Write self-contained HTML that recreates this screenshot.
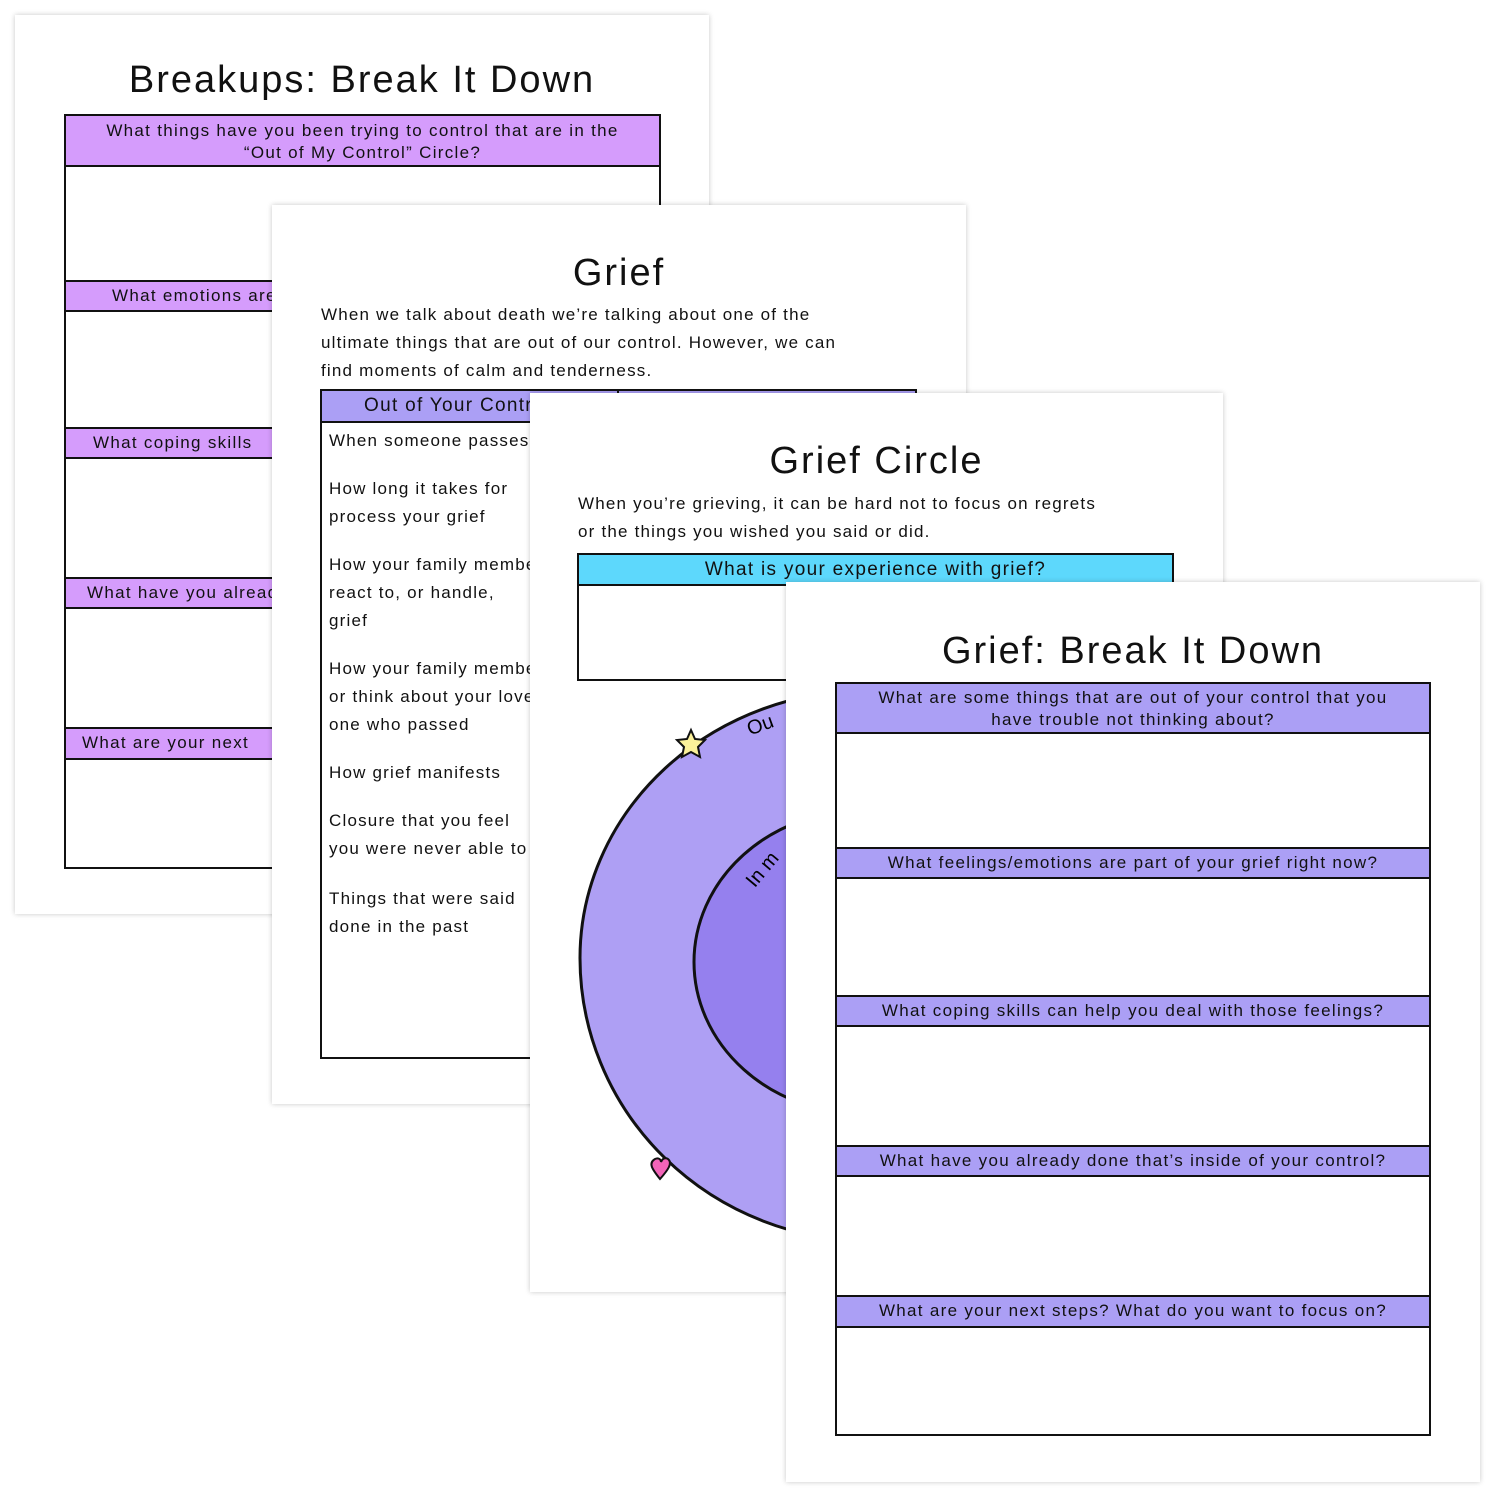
<!DOCTYPE html>
<html><head><meta charset="utf-8"><style>
body{margin:0;width:1500px;height:1500px;background:#fff;position:relative;overflow:hidden;font-family:"Liberation Sans",sans-serif;color:#111}
.pg{position:absolute;background:#fff;box-shadow:0 0 5px rgba(0,0,0,.22);z-index:0}
.t{position:absolute;box-sizing:border-box;border:2px solid #111;background:transparent;z-index:2}
.h{position:absolute;box-sizing:border-box;border-top:2px solid #111;border-bottom:2px solid #111;text-align:center;font-size:17px;letter-spacing:1.3px;line-height:22px}
.ttl{position:absolute;font-size:38px;letter-spacing:2px;text-align:center}
.p{position:absolute;font-size:17px;letter-spacing:1.2px;line-height:28px}
</style></head><body>

<!-- Page 1 -->
<div class="pg" style="left:15px;top:15px;width:694px;height:899px">
<div class="ttl" style="left:0;width:694px;top:44px">Breakups: Break It Down</div>
<div class="h" style="left:49px;top:99px;width:597px;height:53px;background:#d59cfc;padding-top:4px">What things have you been trying to control that are in the<br>“Out of My Control” Circle?</div>
<div class="h" style="left:49px;top:265px;width:597px;height:32px;background:#d59cfc;text-align:left;padding-left:48px;line-height:27px">What emotions are</div>
<div class="h" style="left:49px;top:412px;width:597px;height:32px;background:#d59cfc;text-align:left;padding-left:29px;line-height:27px">What coping skills</div>
<div class="h" style="left:49px;top:562px;width:597px;height:32px;background:#d59cfc;text-align:left;padding-left:23px;line-height:27px">What have you already</div>
<div class="h" style="left:49px;top:712px;width:597px;height:33px;background:#d59cfc;text-align:left;padding-left:18px;line-height:27px">What are your next</div>
<div class="t" style="left:49px;top:99px;width:597px;height:755px"></div>
</div>

<!-- Page 2 -->
<div class="pg" style="left:272px;top:205px;width:694px;height:899px">
<div class="ttl" style="left:0;width:694px;top:47px">Grief</div>
<div class="p" style="left:49px;top:96px">When we talk about death we’re talking about one of the<br>ultimate things that are out of our control. However, we can<br>find moments of calm and tenderness.</div>
<div class="h" style="left:48px;top:184px;width:597px;height:34px;background:#ab9ff5;text-align:left;padding-left:44px;line-height:30px;font-size:19px">Out of Your Control</div>
<div style="position:absolute;left:345px;top:184px;width:2px;height:34px;background:#111"></div>
<div class="t" style="left:48px;top:184px;width:597px;height:670px"></div>
<div class="p" style="left:57px;top:222px">When someone passes</div>
<div class="p" style="left:57px;top:270px">How long it takes for<br>process your grief</div>
<div class="p" style="left:57px;top:346px">How your family members<br>react to, or handle,<br>grief</div>
<div class="p" style="left:57px;top:450px">How your family members<br>or think about your loved<br>one who passed</div>
<div class="p" style="left:57px;top:554px">How grief manifests</div>
<div class="p" style="left:57px;top:602px">Closure that you feel<br>you were never able to</div>
<div class="p" style="left:57px;top:680px">Things that were said<br>done in the past</div>
</div>

<!-- Page 3 -->
<div class="pg" style="left:530px;top:393px;width:693px;height:899px;overflow:hidden">
<div class="ttl" style="left:0;width:693px;top:47px">Grief Circle</div>
<div class="p" style="left:48px;top:97px">When you’re grieving, it can be hard not to focus on regrets<br>or the things you wished you said or did.</div>
<div class="h" style="left:47px;top:160px;width:597px;height:33px;background:#5dd8fc;line-height:30px;font-size:19px">What is your experience with grief?</div>
<div class="t" style="left:47px;top:160px;width:597px;height:128px"></div>
<svg style="position:absolute;left:0;top:0" width="693" height="899">
<path d="M50,565 A290,268 0 0 1 630,565 A290,283 0 0 1 50,565 Z" fill="#ae9ff4" stroke="#111" stroke-width="3"/>
<ellipse cx="334" cy="569" rx="170" ry="152" fill="#9580ee" stroke="#111" stroke-width="3"/>
<text x="218" y="338" font-size="20" font-family="Liberation Sans" transform="rotate(-20 232 335)">Ou</text>
<text x="212" y="492" font-size="20" font-family="Liberation Sans" transform="rotate(-50 222 480)">In m</text>
<polygon points="161,337 165,346 175,347 168,354 170,364 161,359 152,364 154,354 147,347 157,346" fill="#fbf19a" stroke="#111" stroke-width="2"/>
<path d="M130,786 C122,776 118,770 125,766 C129,764 131,767 131,769 C132,766 135,764 138,766 C143,770 138,777 130,786 Z" fill="#f264b8" stroke="#111" stroke-width="2"/>
</svg>
</div>

<!-- Page 4 -->
<div class="pg" style="left:786px;top:582px;width:694px;height:900px">
<div class="ttl" style="left:0;width:694px;top:48px">Grief: Break It Down</div>
<div class="h" style="left:49px;top:100px;width:596px;height:52px;background:#ab9ff5;padding-top:3px">What are some things that are out of your control that you<br>have trouble not thinking about?</div>
<div class="h" style="left:49px;top:265px;width:596px;height:32px;background:#ab9ff5;line-height:27px">What feelings/emotions are part of your grief right now?</div>
<div class="h" style="left:49px;top:413px;width:596px;height:32px;background:#ab9ff5;line-height:27px">What coping skills can help you deal with those feelings?</div>
<div class="h" style="left:49px;top:563px;width:596px;height:32px;background:#ab9ff5;line-height:27px">What have you already done that’s inside of your control?</div>
<div class="h" style="left:49px;top:713px;width:596px;height:33px;background:#ab9ff5;line-height:27px">What are your next steps? What do you want to focus on?</div>
<div class="t" style="left:49px;top:100px;width:596px;height:754px"></div>
</div>
</body></html>
